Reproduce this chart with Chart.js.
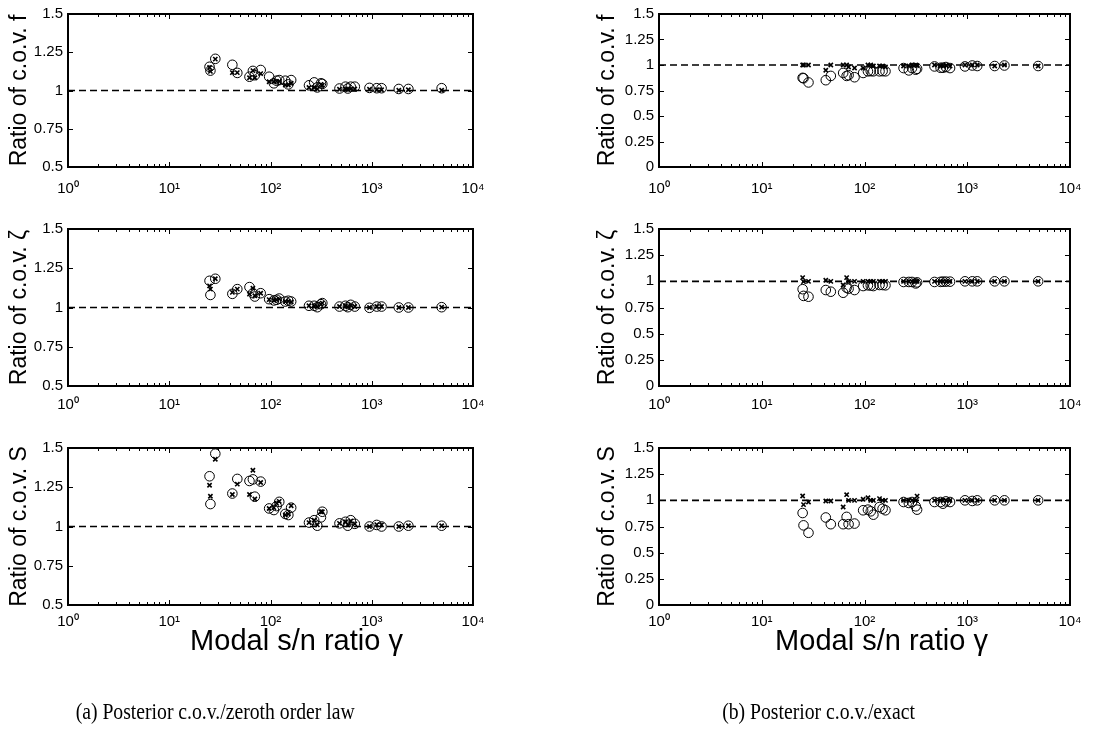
<!DOCTYPE html>
<html>
<head>
<meta charset="utf-8">
<script src="https://cdn.jsdelivr.net/npm/chart.js@4.4.1/dist/chart.umd.min.js"></script>
<style>
  html, body { margin: 0; padding: 0; background: #fff; }
  #wrap { position: relative; width: 1112px; height: 740px; overflow: hidden; background: #fff; }
  #wrap canvas { position: absolute; left: 0; top: 0; }
  .cap { position: absolute; font-family: 'Liberation Serif', 'Times New Roman', serif; font-size: 24px; color: #000; white-space: nowrap; transform-origin: center center; }
</style>
</head>
<body>
<div id="wrap">
  <canvas id="c0" width="1112" height="740"></canvas>
  <canvas id="c1" width="1112" height="740"></canvas>
  <canvas id="c2" width="1112" height="740"></canvas>
  <canvas id="c3" width="1112" height="740"></canvas>
  <canvas id="c4" width="1112" height="740"></canvas>
  <canvas id="c5" width="1112" height="740"></canvas>
  <div class="cap" id="capA">(a) Posterior c.o.v./zeroth order law</div>
  <div class="cap" id="capB">(b) Posterior c.o.v./exact</div>
</div>
<script>
// ---------------- data ----------------
const gamma = [25, 25.5, 28.5, 42, 47, 62, 67, 70, 80, 97, 108, 115, 122, 140, 150, 160,
               240, 270, 290, 315, 325, 480, 550, 580, 620, 680, 950, 1120, 1250, 1850, 2300, 4900];

// (a) zeroth order law — circles (o) and crosses (x)
const fZerothO = [1.155, 1.13, 1.207, 1.168, 1.115, 1.09, 1.128, 1.10, 1.134, 1.09, 1.047, 1.064, 1.068, 1.064, 1.04, 1.068,
                  1.034, 1.053, 1.02, 1.047, 1.043, 1.013, 1.025, 1.013, 1.025, 1.025, 1.017, 1.015, 1.015, 1.01, 1.01, 1.015];
const fZerothX = [1.15, 1.125, 1.205, 1.117, 1.117, 1.083, 1.13, 1.083, 1.11, 1.057, 1.057, 1.06, 1.06, 1.036, 1.036, 1.047,
                  1.02, 1.02, 1.01, 1.04, 1.034, 1.008, 1.01, 1.01, 1.01, 1.01, 1.008, 1.005, 1.005, 1.002, 1.005, 1.002];
const zetaZerothO = [1.17, 1.08, 1.183, 1.087, 1.117, 1.13, 1.091, 1.07, 1.091, 1.053, 1.045, 1.049, 1.057, 1.038, 1.043, 1.038,
                     1.011, 1.011, 1.002, 1.021, 1.028, 1.006, 1.011, 1.002, 1.017, 1.006, 0.998, 1.006, 1.006, 1.0, 1.0, 1.002];
const zetaZerothX = [1.138, 1.117, 1.183, 1.096, 1.117, 1.085, 1.123, 1.075, 1.091, 1.05, 1.045, 1.049, 1.055, 1.038, 1.04, 1.035,
                     1.011, 1.011, 1.005, 1.021, 1.028, 1.006, 1.011, 1.005, 1.012, 1.006, 1.0, 1.006, 1.006, 1.0, 1.0, 1.002];
const sZerothO = [1.32, 1.143, 1.464, 1.21, 1.303, 1.29, 1.30, 1.19, 1.286, 1.115, 1.105, 1.13, 1.157, 1.08, 1.073, 1.12,
                  1.025, 1.04, 1.005, 1.058, 1.094, 1.02, 1.03, 1.005, 1.04, 1.017, 1.0, 1.01, 1.0, 1.0, 1.005, 1.005];
const sZerothX = [1.263, 1.193, 1.428, 1.204, 1.27, 1.204, 1.358, 1.175, 1.28, 1.115, 1.12, 1.147, 1.16, 1.073, 1.08, 1.132,
                  1.025, 1.04, 1.01, 1.094, 1.094, 1.02, 1.03, 1.01, 1.035, 1.017, 1.0, 1.012, 1.01, 1.0, 1.005, 1.005];

// (b) exact — circles (o) and crosses (x)
const fExactO = [0.874, 0.87, 0.829, 0.851, 0.893, 0.922, 0.893, 0.90, 0.88, 0.922, 0.938, 0.94, 0.938, 0.938, 0.94, 0.938,
                 0.97, 0.947, 0.97, 0.954, 0.963, 0.986, 0.973, 0.973, 0.98, 0.97, 0.986, 0.995, 0.99, 0.99, 0.995, 0.99];
const fExactX = [1.0, 1.0, 1.0, 0.948, 1.0, 1.0, 1.0, 0.98, 0.97, 0.97, 1.0, 1.0, 0.99, 0.99, 0.99, 0.98,
                 0.99, 0.99, 1.0, 1.0, 0.995, 1.0, 0.99, 0.99, 0.995, 0.99, 1.0, 1.0, 1.0, 0.99, 1.0, 0.99];
const zetaExactO = [0.925, 0.861, 0.853, 0.917, 0.901, 0.891, 0.939, 0.93, 0.917, 0.955, 0.962, 0.96, 0.955, 0.965, 0.965, 0.962,
                    0.994, 0.994, 0.994, 0.98, 0.99, 0.994, 0.995, 0.997, 0.997, 0.997, 1.0, 1.0, 1.0, 1.0, 1.0, 1.0];
const zetaExactX = [1.035, 0.997, 1.0, 1.01, 1.0, 0.965, 1.035, 1.0, 1.0, 1.0, 1.0, 1.0, 1.0, 1.0, 1.0, 1.0,
                    1.0, 1.0, 1.0, 1.0, 1.0, 1.0, 1.0, 1.0, 1.0, 1.0, 1.0, 1.0, 1.0, 1.0, 1.0, 1.0];
const sExactO = [0.879, 0.761, 0.69, 0.836, 0.772, 0.772, 0.842, 0.772, 0.778, 0.905, 0.911, 0.895, 0.863, 0.936, 0.92, 0.905,
                 0.984, 0.975, 0.984, 0.943, 0.911, 0.984, 0.984, 0.968, 0.99, 0.984, 1.0, 0.994, 1.0, 1.0, 1.0, 1.0];
const sExactX = [1.041, 0.959, 0.984, 0.994, 0.994, 0.936, 1.054, 1.0, 1.0, 1.01, 1.025, 1.0, 1.0, 1.016, 1.0, 1.0,
                 1.0, 1.0, 1.0, 1.0, 1.04, 1.0, 1.0, 1.0, 1.0, 1.0, 1.0, 1.0, 1.0, 1.0, 1.0, 1.0];

const refLineX = [1, 10000];
const refLineY = [1, 1];

const xTickValues = [1, 10, 100, 1000, 10000];
const xTickLabels = ['10\u2070', '10\u00B9', '10\u00B2', '10\u00B3', '10\u2074'];
const yTickValuesA = [0.5, 0.75, 1, 1.25, 1.5];
const yTickLabelsA = ['0.5', '0.75', '1', '1.25', '1.5'];
const yTickValuesB = [0, 0.25, 0.5, 0.75, 1, 1.25, 1.5];
const yTickLabelsB = ['0', '0.25', '0.5', '0.75', '1', '1.25', '1.5'];

const yTitles = ['Ratio of c.o.v. f', 'Ratio of c.o.v. \u03B6', 'Ratio of c.o.v. S'];
const xTitle = 'Modal s/n ratio \u03B3';

// ---------------- layout ----------------
const W = 1112, H = 740;
const colLeft = [68, 659], colRight = [473, 1070], titleCX = [19.5, 607.5];
const rowTop = [11, 229, 448], rowBottom = [167, 386, 605];
const xLabelPad = [13, 10, 8];
const xTitleOffset = [26, 17], xTitleCY = 642;
const SANS = "'Liberation Sans', Arial, sans-serif";
const yTitleSize = 23, xTitleSize = 29, tickSize = 15;

const boxTicks = {
  id: 'boxTicks',
  afterDatasetsDraw(chart) {
    const { ctx, chartArea: a, scales: { x, y } } = chart;
    ctx.save();
    ctx.strokeStyle = '#000';
    ctx.lineWidth = 1;
    const ln = (x1, y1, x2, y2) => { ctx.beginPath(); ctx.moveTo(x1, y1); ctx.lineTo(x2, y2); ctx.stroke(); };
    y.ticks.forEach(t => {
      const py = Math.round(y.getPixelForValue(t.value)) + 0.5;
      ln(a.left, py, a.left + 5, py);
      ln(a.right, py, a.right - 5, py);
    });
    for (let e = 0; e < 4; e++) {
      for (let m = 1; m < 10; m++) {
        const px = Math.round(x.getPixelForValue(m * Math.pow(10, e))) + 0.5;
        const len = m === 1 ? 5 : 3;
        ln(px, a.bottom, px, a.bottom - len);
        ln(px, a.top, px, a.top + len);
      }
    }
    ctx.lineWidth = 2;
    ctx.strokeRect(a.left, a.top, a.width, a.height);
    const o = chart.options.plugins.boxTicks || {};
    if (o.xTitle) {
      ctx.fillStyle = '#000';
      ctx.font = xTitleSize + 'px ' + SANS;
      ctx.textAlign = 'center';
      ctx.textBaseline = 'middle';
      ctx.fillText(o.xTitle, (a.left + a.right) / 2 + o.xTitleOffset, xTitleCY);
    }
    ctx.restore();
  }
};

const panels = [
  { col: 0, row: 0, o: fZerothO, x: fZerothX },
  { col: 1, row: 0, o: fExactO, x: fExactX },
  { col: 0, row: 1, o: zetaZerothO, x: zetaZerothX },
  { col: 1, row: 1, o: zetaExactO, x: zetaExactX },
  { col: 0, row: 2, o: sZerothO, x: sZerothX },
  { col: 1, row: 2, o: sExactO, x: sExactX },
];

panels.forEach((p, i) => {
  const isBottom = p.row === 2;
  const xH = 30;
  const padLeft = titleCX[p.col] - yTitleSize * 1.2 / 2;
  const yW = colLeft[p.col] - padLeft;
  const yVals = p.col === 0 ? yTickValuesA : yTickValuesB;
  const yLabs = p.col === 0 ? yTickLabelsA : yTickLabelsB;
  const pts = arr => gamma.map((g, k) => ({ x: g, y: arr[k] }));
  new Chart(document.getElementById('c' + i), {
    data: {
      datasets: [
        { type: 'scatter', data: pts(p.x), pointStyle: 'crossRot', pointRadius: 3, borderColor: '#000', backgroundColor: '#000', pointBorderWidth: 1.6 },
        { type: 'scatter', data: pts(p.o), pointStyle: 'circle', pointRadius: 4.8, borderColor: '#000', backgroundColor: 'rgba(0,0,0,0)', pointBorderWidth: 1 },
        { type: 'line', data: refLineX.map((v, k) => ({ x: v, y: refLineY[k] })), borderColor: '#000', borderWidth: 1.6, borderDash: [7, 4], pointRadius: 0, fill: false }
      ]
    },
    options: {
      responsive: false,
      animation: false,
      devicePixelRatio: 1,
      layout: { padding: { left: padLeft, right: W - colRight[p.col], top: rowTop[p.row], bottom: H - rowBottom[p.row] - xH } },
      plugins: {
        legend: { display: false }, tooltip: { enabled: false },
        boxTicks: { xTitle: isBottom ? xTitle : null, xTitleOffset: xTitleOffset[p.col] }
      },
      scales: {
        x: {
          type: 'logarithmic', position: 'bottom', min: 1, max: 10000,
          grid: { display: false, drawTicks: false }, border: { display: false },
          afterBuildTicks: s => { s.ticks = xTickValues.map(v => ({ value: v })); },
          afterFit: s => { s.height = xH; },
          ticks: { autoSkip: false, maxRotation: 0, padding: xLabelPad[p.row], color: '#000', font: { family: SANS, size: tickSize },
                   callback: (v, k) => xTickLabels[k] }
        },
        y: {
          type: 'linear', position: 'left', min: yVals[0], max: yVals[yVals.length - 1],
          grid: { display: false, drawTicks: false }, border: { display: false },
          afterBuildTicks: s => { s.ticks = yVals.map(v => ({ value: v })); },
          afterFit: s => { s.width = yW; },
          ticks: { autoSkip: false, padding: 5, color: '#000', font: { family: SANS, size: tickSize },
                   callback: (v, k) => yLabs[k] },
          title: { display: true, text: yTitles[p.row], color: '#000', padding: 0, font: { family: SANS, size: yTitleSize } }
        }
      }
    },
    plugins: [boxTicks]
  });
});

// captions
function placeCap(id, cx, cy, sx) {
  const el = document.getElementById(id);
  const w = el.offsetWidth, h = el.offsetHeight;
  el.style.left = (cx - w / 2) + 'px';
  el.style.top = (cy - h / 2) + 'px';
  el.style.transform = 'scaleX(' + sx + ')';
}
placeCap('capA', 215, 711, 0.82);
placeCap('capB', 818, 711, 0.82);
</script>
</body>
</html>
